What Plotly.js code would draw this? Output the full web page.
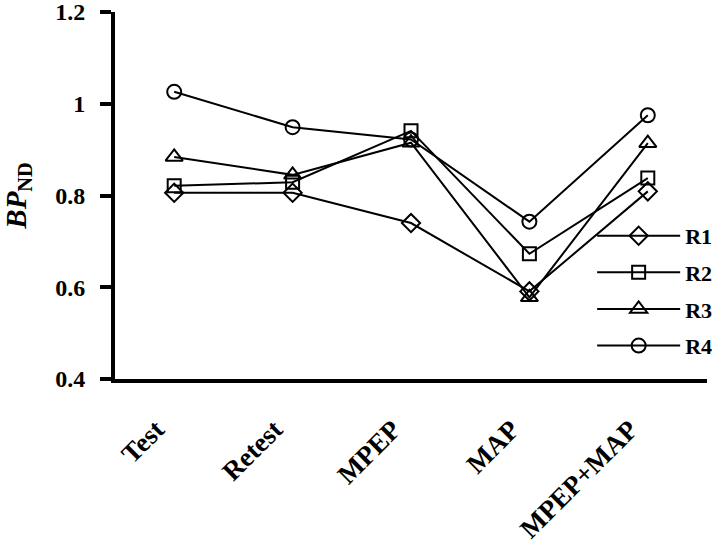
<!DOCTYPE html>
<html>
<head>
<meta charset="utf-8">
<script src="https://cdn.plot.ly/plotly-3.0.1.min.js"></script>
<style>html,body{margin:0;padding:0;background:#fff;}#chart{width:720px;height:546px;}</style>
</head>
<body>
<div id="chart"></div>
<script>
const categories = ["Test", "Retest", "MPEP", "MAP", "MPEP+MAP"];
const seriesNames = ["R1", "R2", "R3", "R4"];
const r1 = [0.806, 0.806, 0.740, 0.591, 0.809];
const r2 = [0.821, 0.829, 0.941, 0.673, 0.838];
const r3 = [0.884, 0.845, 0.915, 0.578, 0.914];
const r4 = [1.026, 0.949, 0.922, 0.743, 0.975];
const yTicks = [0.4, 0.6, 0.8, 1, 1.2];
const yTickText = ["0.4", "0.6", "0.8", "1", "1.2"];

const seriesValues = [r1, r2, r3, r4];
const symbols = ["diamond-open", "square-open", "triangle-up-open", "circle-open"];
const sizes = [14, 13, 15, 14];
const font = "'Liberation Serif', 'Times New Roman', serif";

const traces = seriesValues.map((vals, i) => ({
  type: "scatter",
  mode: "lines+markers",
  name: seriesNames[i],
  legendgroup: seriesNames[i],
  x: categories,
  y: vals,
  line: {color: "#000", width: 2},
  marker: {symbol: symbols[i], size: sizes[i], color: "#000", line: {color: "#000", width: 2}},
  cliponaxis: false
}));

const layout = {
  width: 720, height: 546,
  margin: {l: 115, r: 13, t: 12, b: 167, autoexpand: false},
  paper_bgcolor: "#fff", plot_bgcolor: "#fff",
  font: {family: font, color: "#000"},
  showlegend: true,
  legend: {
    x: 0.806, xanchor: "left", y: 0.447, yanchor: "top",
    font: {family: font, size: 22, color: "#000", weight: "bold"},
    bgcolor: "rgba(0,0,0,0)", tracegroupgap: 5, traceorder: "grouped",
    itemwidth: 83
  },
  xaxis: {
    type: "category", range: [-0.5, 4.5],
    showline: true, linecolor: "#000", linewidth: 4,
    showgrid: false, zeroline: false, ticks: "",
    tickangle: -45,
    tickfont: {family: font, size: 27, color: "#000", weight: "bold"},
    ticklabelshift: -18, ticklabelstandoff: 20
  },
  yaxis: {
    range: [0.4, 1.2],
    tickvals: yTicks, ticktext: yTickText,
    showline: true, linecolor: "#000", linewidth: 4,
    showgrid: false, zeroline: false,
    ticks: "outside", ticklen: 11, tickwidth: 4, tickcolor: "#000",
    tickfont: {family: font, size: 24, color: "#000", weight: "bold"},
    ticklabelstandoff: 10, ticklabeloverflow: "allow",
    title: {text: "<b><i>BP</i><sub>ND</sub></b>", font: {family: font, size: 29, color: "#000"}, standoff: 28}
  }
};

Plotly.newPlot("chart", traces, layout, {displayModeBar: false, staticPlot: true});
</script>
</body>
</html>
